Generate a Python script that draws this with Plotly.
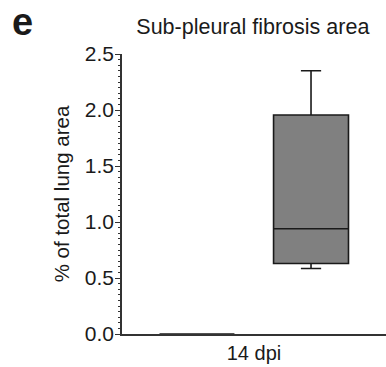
import plotly.graph_objects as go

category = ["14 dpi"]
group_names = ["Control", "Fibrosis"]
# box statistics
q1 = [0.0, 0.63]
median = [0.0, 0.94]
q3 = [0.0, 1.955]
lower = [0.0, 0.585]
upper = [0.0, 2.35]
fills = ["#ffffff", "#808080"]

fig = go.Figure()
for i, name in enumerate(group_names):
    fig.add_trace(go.Box(
        x=category, q1=[q1[i]], median=[median[i]], q3=[q3[i]],
        lowerfence=[lower[i]], upperfence=[upper[i]],
        name=name, fillcolor=fills[i],
        line=dict(color="#1a1a1a", width=1.6),
        whiskerwidth=0.27, boxpoints=False, showlegend=False,
    ))

fig.update_layout(
    width=386, height=367,
    margin=dict(l=122, r=0, t=54, b=33),
    paper_bgcolor="white", plot_bgcolor="white",
    boxmode="group", boxgap=0.136, boxgroupgap=0.343,
    font=dict(family="Liberation Sans, Arial, sans-serif", color="#1a1a1a"),
    title=dict(text="Sub-pleural fibrosis area", x=0.655, xanchor="center",
               y=1 - 26 / 367, yanchor="middle", yref="container",
               font=dict(size=21.5)),
    xaxis=dict(showline=True, linecolor="#333333", linewidth=1.6,
               ticks="", tickfont=dict(size=20), showgrid=False,
               zeroline=False),
    yaxis=dict(range=[0, 2.5], tick0=0, dtick=0.5, tickformat=".1f",
               showline=True, linecolor="#333333", linewidth=1.6,
               ticks="outside", ticklen=5, tickwidth=1.4, tickcolor="#333333",
               ticklabelstandoff=-3,
               minor=dict(ticks="outside", dtick=0.05, ticklen=2.5,
                          tickwidth=1, tickcolor="#333333"),
               tickfont=dict(size=21), showgrid=False, zeroline=False,
               title=dict(text="% of total lung area", font=dict(size=20.5),
                          standoff=10)),
    annotations=[dict(text="<b>e</b>", showarrow=False, font=dict(size=38),
                      xref="paper", yref="paper",
                      x=(22 - 122) / 264, y=1 + (54 - 22) / 280,
                      xanchor="center", yanchor="middle")],
)
fig.write_html("out.html")
